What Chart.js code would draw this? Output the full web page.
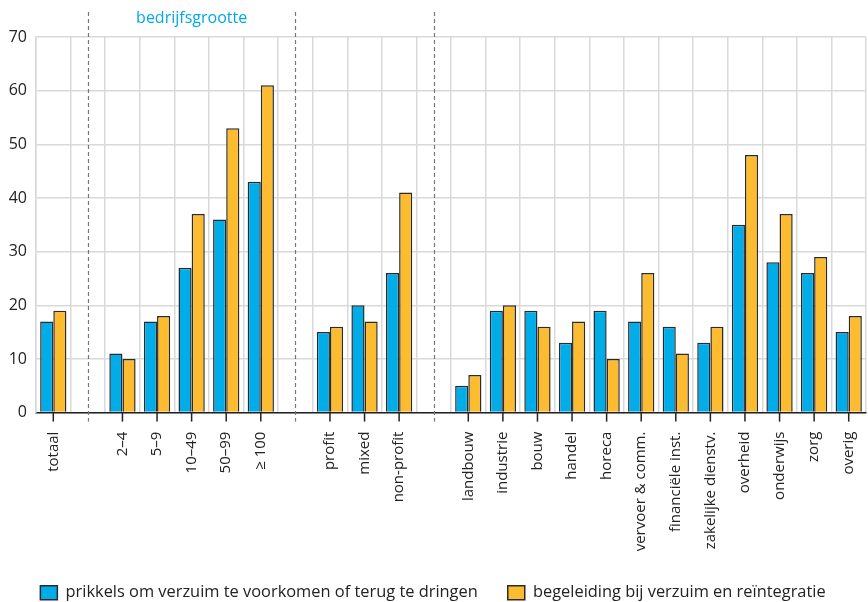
<!DOCTYPE html>
<html>
<head>
<meta charset="utf-8">
<script src="https://cdn.jsdelivr.net/npm/chart.js@4"></script>
<style>
  html, body { margin: 0; padding: 0; background: #fff; }
  #wrap { width: 868px; height: 602px; }
</style>
</head>
<body>
<div id="wrap"><canvas id="myChart" width="868" height="602"></canvas></div>
<script>
// empty labels are the gaps between the groups
const categories = ['totaal', '', '2–4', '5–9', '10–49', '50–99', '≥ 100', '',
    'profit', 'mixed', 'non-profit', '',
    'landbouw', 'industrie', 'bouw', 'handel', 'horeca', 'vervoer & comm.',
    'financiële inst.', 'zakelijke dienstv.', 'overheid', 'onderwijs', 'zorg', 'overig'];
const prikkels = [17, null, 11, 17, 27, 36, 43, null, 15, 20, 26, null,
    5, 19, 19, 13, 19, 17, 16, 13, 35, 28, 26, 15];
const begeleiding = [19, null, 10, 18, 37, 53, 61, null, 16, 17, 41, null,
    7, 20, 16, 17, 10, 26, 11, 16, 48, 37, 29, 18];
const yTicks = [0, 10, 20, 30, 40, 50, 60, 70];
const groupTitle = 'bedrijfsgrootte';

const font = "'Open Sans', sans-serif";

// dashed separators, group title and tick marks at the category centres
const extras = {
    id: 'extras',
    afterDraw(chart) {
        const ctx = chart.ctx;
        const x = chart.scales.x;
        const area = chart.chartArea;
        ctx.save();
        ctx.strokeStyle = '#777';
        ctx.lineWidth = 1.2;
        ctx.setLineDash([4, 3]);
        const gaps = [];
        categories.forEach((c, i) => { if (c === '') gaps.push(x.getPixelForValue(i)); });
        gaps.forEach(px => {
            ctx.beginPath();
            ctx.moveTo(Math.round(px) + 0.5, 12);
            ctx.lineTo(Math.round(px) + 0.5, area.bottom + 9);
            ctx.stroke();
        });
        ctx.setLineDash([]);
        ctx.strokeStyle = '#222';
        ctx.lineWidth = 1.5;
        categories.forEach((c, i) => {
            if (c === '') return;
            const px = x.getPixelForValue(i);
            ctx.beginPath();
            ctx.moveTo(px, area.bottom);
            ctx.lineTo(px, area.bottom + 9);
            ctx.stroke();
        });
        ctx.fillStyle = '#00a9e6';
        ctx.font = '16px ' + font;
        ctx.textAlign = 'center';
        ctx.textBaseline = 'middle';
        ctx.fillText(groupTitle, (gaps[0] + gaps[1]) / 2, 18);
        ctx.restore();
    }
};

new Chart('myChart', {
    type: 'bar',
    data: {
        labels: categories,
        datasets: [{
            label: 'prikkels om verzuim te voorkomen of terug te dringen',
            data: prikkels,
            backgroundColor: '#00ade9',
            borderColor: '#2b2b2b',
            borderWidth: 1.5,
            categoryPercentage: 0.76,
            barPercentage: 1
        }, {
            label: 'begeleiding bij verzuim en reïntegratie',
            data: begeleiding,
            backgroundColor: '#fdbc30',
            borderColor: '#2b2b2b',
            borderWidth: 1.5,
            categoryPercentage: 0.76,
            barPercentage: 1
        }]
    },
    options: {
        responsive: false,
        animation: false,
        layout: { padding: { top: 37, right: 2, left: 0, bottom: -9 } },
        plugins: {
            tooltip: { enabled: false },
            legend: {
                position: 'bottom',
                labels: {
                    boxWidth: 17,
                    boxHeight: 14,
                    color: '#222',
                    padding: 30,
                    font: { family: font, size: 16.4 }
                }
            }
        },
        scales: {
            x: {
                grid: { offset: true, color: '#d9d9d9', lineWidth: 1.5, drawTicks: false },
                border: { color: '#222', width: 1.5 },
                ticks: {
                    autoSkip: false,
                    minRotation: 90,
                    maxRotation: 90,
                    padding: 19,
                    color: '#222',
                    font: { family: font, size: 15 }
                },
                afterFit: s => { s.height = 142; s.paddingRight = 0; s.paddingLeft = 0; }
            },
            y: {
                min: 0,
                max: 70,
                afterBuildTicks: s => { s.ticks = yTicks.map(v => ({ value: v })); },
                grid: { color: '#d9d9d9', lineWidth: 1.5, drawTicks: false },
                border: { color: '#d9d9d9', width: 1.5 },
                ticks: {
                    padding: 9,
                    color: '#222',
                    font: { family: font, size: 16 }
                },
                afterFit: s => { s.width = 36; }
            }
        }
    },
    plugins: [extras]
});
</script>
</body>
</html>
